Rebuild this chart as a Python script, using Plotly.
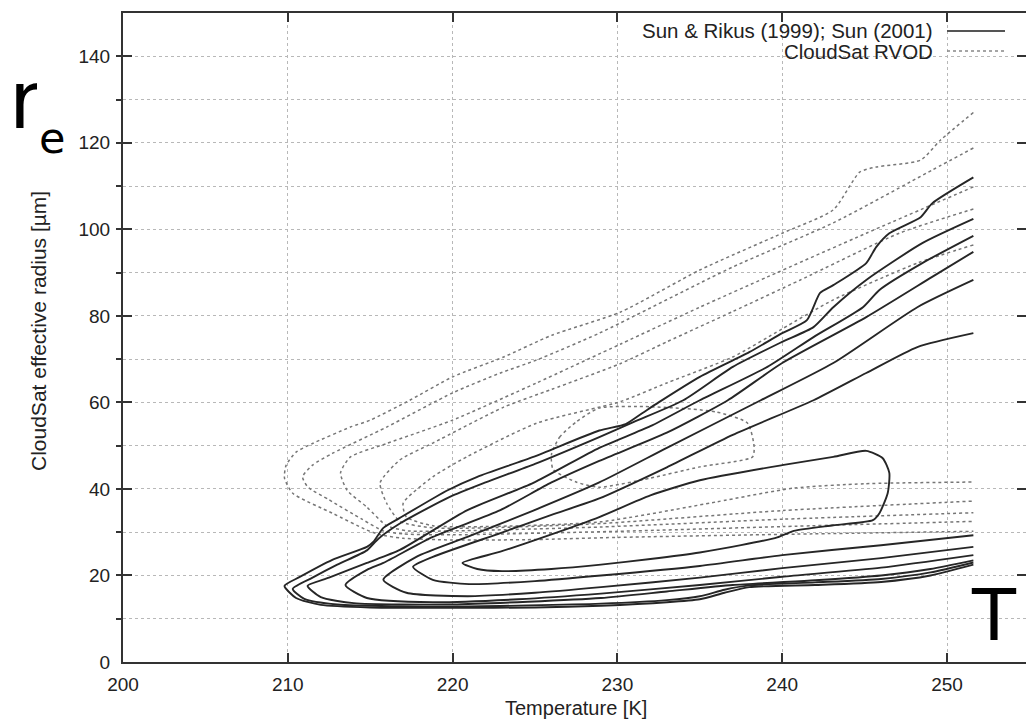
import plotly.graph_objects as go

# ---- Sun & Rikus (1999); Sun (2001) contours (temperature K, effective radius um) ----
SR1_T = [251.6,249.1,248.4,246.5,245.7,245.1,243.1,242.3,241.5,240,238,235,232.5,231.5,230.5,228.9,224.9,221.5,219.7,216.8,215.8,215.2,214.8,212.7,210.7,209.8,
         210.5,212,215,220,225,229,233,235,236.5,238,242,246,249,251.6]
SR1_R = [112,106,102.8,99.1,95.9,92.2,87.1,85.3,79,76,71.6,65.9,60,57.5,55,53.5,47.4,42.8,39.7,33.3,31,27.8,26.6,23.6,19.6,17.6,
         14.8,13.2,12.6,12.5,12.6,13,13.8,14.5,16,17.3,17.8,18.5,20,22.5]

SR2_T = [251.6,248.5,245.1,243.1,241.9,240,237,234,231,228.9,225,222,219.8,216.8,215.5,214.8,213,211.5,210.3,
         211,213,220,229,233,235,236.5,238,242,246,249,251.6]
SR2_R = [102.4,96.8,88.3,82,77.4,74,68.2,60.5,55.5,52,45.8,41.5,38.1,32,28.5,25.8,22.5,19.5,16.9,
         14.6,13.3,12.8,13.5,14.3,15.2,16.7,17.7,18.4,19.2,20.7,23]

SR3_T = [251.6,248.5,245.9,244.9,241.9,239.1,235,232,228.9,224.9,220.9,216.8,214.8,212.5,211.2,
         212,214,220,229,233,237,242,246,249,251.6]
SR3_R = [98.5,92.2,86,82,75.1,68.2,60.5,54.5,49.5,41.4,35.1,25.9,22.9,19.5,17.6,
         15,13.6,13.3,14.8,16.3,17.8,18.9,20,21.5,23.5]

SR4_T = [251.6,249.1,245.1,240,236.7,233,228.9,226,222.9,218.8,215.8,214.8,213.5,
         214.8,218.8,224,229,235,240,246,251.6]
SR4_R = [94.8,89,79.7,69.1,60.5,53,46.5,41.5,35.1,28.9,22.9,21.3,17.8,
         14.8,13.8,14.5,15.8,17.8,19.7,21.8,24.7]

SR5_T = [251.6,248.2,243.1,238.7,233,228.9,224.9,220.9,217.8,215.8,
         217.2,220.9,225,229,235,240,246,251.6]
SR5_R = [88.3,82,69.1,60.5,49.5,41.5,35,28.9,24.3,19,
         16,15.2,16,17.3,19.5,21.7,24,26.6]

SR6_T = [251.6,248.2,245.1,241.9,237,233,228.9,226,222.9,218.8,217.6,
         218.8,221,225,229,235,240,246,251.6]
SR6_R = [76,72.8,66.8,60.5,52.5,45,37.8,34,29.8,24.3,22,
         19,18,18.7,20,22.2,24.7,27,29.3]

SR7_T = [220.6,222.9,226,228.9,232,235,240,243.1,245.1,246.1,246.5,246.4,245.9,245.5,
         243.1,240.7,239.7,237.5,235,232,229,226,223,221.5,220.6]
SR7_R = [22.9,25.5,29.5,33.5,38.5,42,45.5,47.4,48.8,47.1,43.7,39,34.4,32.8,
         31.6,30.3,28.8,27,25.3,23.8,22.5,21.5,21,21.5,22.9]

# ---- CloudSat RVOD contours ----
CS1_T = [251.6,249.6,248.4,245.7,244.7,243.1,240,235,230.2,226,223.1,220,217.4,215,213.8,211.5,210.5,209.9,209.8,
         210.3,212.7,214.8,215.6,217,220,225,230,240,251.6]
CS1_R = [127,120.6,116,114.4,113.2,104.5,99.1,90.6,80.9,75.5,70.5,65.9,60.5,55.9,54.3,50.5,48.5,45.5,42.5,
         39,34.4,30.5,29.4,28.6,28.2,28.3,28.8,29.5,30.2]

CS2_T = [251.6,249.1,243.1,237,228.9,225.1,222.9,220,216,212.7,211.5,210.9,
         211.2,212.5,214.5,215.8,217,220,230,240,251.6]
CS2_R = [118.8,113.7,101.5,91.3,76,69.8,66.8,62.2,54.3,48.2,45.5,42.8,
         40.5,37.5,33,30.3,29.6,29.4,30.2,31.3,32.5]

CS3_T = [251.6,245.1,239.1,235,230.2,225.1,220,216,213.8,213.2,
         213.6,214.8,216,217.3,220,229,240,251.6]
CS3_R = [109.8,99.1,89,82,73.5,64.5,55.9,50.5,47.4,43.7,
         39.7,35.8,31.5,30.3,30.3,31.2,33,34.5]

CS4_T = [251.6,247.1,241.1,237,233,230.2,226,223.1,218.8,216.8,215.6,
         216,216.8,218.8,222,229,240,251.6]
CS4_R = [104.7,99.1,88.3,81,74,69,63,58.9,50.6,46.7,41.4,
         36.7,32.5,31,31,32,35,37.2]

CS5_T = [251.6,248.2,243.1,240,237,233,230.2,225.1,220.9,218.8,217,
         217.2,218.8,222,229,236,240.7,245,251.6]
CS5_R = [96.4,92.2,83.7,77,70.5,64.5,60.2,55.2,47.5,42.8,36.7,
         33.5,31.5,31.3,32.4,37,40.2,41.2,41.6]

CS6_T = [226,226.5,227.5,228.9,232,236,237.9,238.3,238.2,235,232,228.9,227.5,226.1,226]
CS6_R = [48,52,55.5,58.7,59,57.8,55.2,49.7,47.4,45.1,42.5,40.4,41.6,44.5,48]

SUN_SERIES = [(SR1_T, SR1_R), (SR2_T, SR2_R), (SR3_T, SR3_R), (SR4_T, SR4_R),
              (SR5_T, SR5_R), (SR6_T, SR6_R), (SR7_T, SR7_R)]
CS_SERIES = [(CS1_T, CS1_R), (CS2_T, CS2_R), (CS3_T, CS3_R), (CS4_T, CS4_R),
             (CS5_T, CS5_R), (CS6_T, CS6_R)]

X_TICKS = [200, 210, 220, 230, 240, 250]
Y_TICKS = [0, 20, 40, 60, 80, 100, 120, 140]
LEGEND_LABELS = ["Sun & Rikus (1999); Sun (2001)", "CloudSat RVOD"]

W, H = 1026, 726
ML, MR, MT, MB = 123, 0, 13, 64
PW, PH = W - ML - MR, H - MT - MB
FONT = "Liberation Sans, Arial, sans-serif"


def px(x):
    return (x - ML) / PW


def py(y):
    return (H - MB - y) / PH


fig = go.Figure()
for t, r in CS_SERIES:
    fig.add_trace(go.Scatter(x=t, y=r, mode="lines", showlegend=False, hoverinfo="skip",
                             line=dict(color="#767676", width=1.5, dash="3px,3px",
                                       shape="spline", smoothing=0.6)))
for t, r in SUN_SERIES:
    fig.add_trace(go.Scatter(x=t, y=r, mode="lines", showlegend=False, hoverinfo="skip",
                             line=dict(color="#262626", width=1.9, shape="spline", smoothing=0.6)))

tick_font = dict(family=FONT, size=19, color="#222")
axis_common = dict(showline=True, linecolor="#333", linewidth=2, mirror="allticks",
                   ticks="inside", tickcolor="#333", tickwidth=1.5,
                   showgrid=True, gridcolor="#b8b8b8", gridwidth=1, griddash="dot",
                   zeroline=False, tickfont=tick_font)
fig.update_xaxes(range=[200, 200 + PW / 16.48], tickvals=X_TICKS, ticklen=9,
                 ticklabelstandoff=4, **axis_common)
fig.update_yaxes(range=[0, 150], tickvals=Y_TICKS, ticklen=9, ticklabelstandoff=7,
                 minor=dict(dtick=10, ticklen=5, tickcolor="#333", showgrid=True,
                            gridcolor="#b8b8b8", griddash="dot", gridwidth=1),
                 **axis_common)

ann = []
# axis titles
ann.append(dict(text="Temperature [K]", x=px(576), y=py(708), xref="paper", yref="paper",
                showarrow=False, xanchor="center", yanchor="middle",
                font=dict(family=FONT, size=20, color="#222")))
ann.append(dict(text="CloudSat effective radius [\u00b5m]", x=px(38), y=py(331), xref="paper", yref="paper",
                showarrow=False, textangle=-90, xanchor="center", yanchor="middle",
                font=dict(family=FONT, size=21, color="#222")))
# legend texts
for i, lab in enumerate(LEGEND_LABELS):
    ann.append(dict(text=lab, x=px(935), y=py(31 + 20 * i), xref="paper", yref="paper",
                    showarrow=False, xanchor="right", yanchor="middle",
                    font=dict(family=FONT, size=20.5, color="#222")))
# big symbols
big = "DejaVu Sans, Verdana, sans-serif"
ann.append(dict(text="r", x=px(8), y=py(100), xref="paper", yref="paper", showarrow=False,
                xanchor="left", yanchor="middle", width=28, align="left", borderpad=0,
                font=dict(family=big, size=80, color="#000")))
ann.append(dict(text="e", x=px(38), y=py(138), xref="paper", yref="paper", showarrow=False,
                xanchor="left", yanchor="middle", borderpad=0,
                font=dict(family=big, size=43, color="#000")))
ann.append(dict(text="T", x=px(994), y=py(615), xref="paper", yref="paper", showarrow=False,
                xanchor="center", yanchor="middle", font=dict(family=big, size=72, color="#000")))

shapes = [
    dict(type="line", xref="paper", yref="paper", x0=px(947), x1=px(1005), y0=py(31), y1=py(31),
         line=dict(color="#555", width=2)),
    dict(type="line", xref="paper", yref="paper", x0=px(947), x1=px(1005), y0=py(51), y1=py(51),
         line=dict(color="#888", width=1.5, dash="3px,3px")),
]

fig.update_layout(width=W, height=H, margin=dict(l=ML, r=MR, t=MT, b=MB, autoexpand=False),
                  paper_bgcolor="white", plot_bgcolor="white",
                  annotations=ann, shapes=shapes, showlegend=False)
fig.write_html("out.html")
